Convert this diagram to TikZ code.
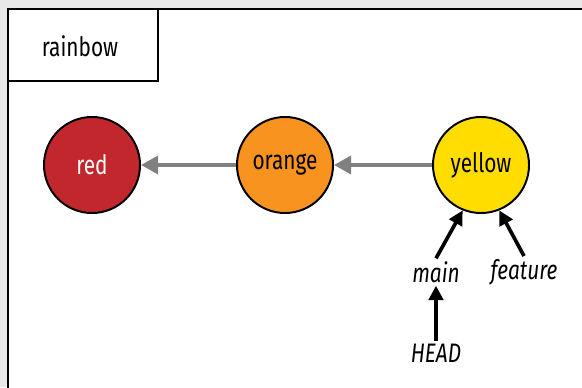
\documentclass[tikz,border=0pt]{standalone}
\usepackage{fontspec}
\setmainfont{Fira Sans}[FakeStretch=0.78]
\definecolor{rbred}{RGB}{193,39,45}
\definecolor{rborange}{RGB}{247,147,30}
\definecolor{rbyellow}{RGB}{255,221,0}
\definecolor{rbgray}{RGB}{128,128,128}
\definecolor{paper}{RGB}{232,232,232}
\usetikzlibrary{arrows.meta}
\tikzset{
  commit/.style={circle, draw=black, line width=1.4pt, minimum size=2.4cm,
              inner sep=0pt, font=\fontsize{19}{22}\selectfont},
  ref/.style={font=\fontsize{19}{22}\selectfont\itshape, inner sep=2pt},
  repo/.style={draw=black, line width=1.8pt, fill=white},
  parent/.style={-{Triangle[length=4.3mm, width=4.5mm]}, rbgray, line width=2.8pt},
  pointer/.style={-{Triangle[length=3.6mm, width=3.6mm]}, line width=2.6pt},
}
\begin{document}
\begin{tikzpicture}[x=0.025cm, y=-0.025cm]
        \useasboundingbox (0,0) rectangle (582,387);
        \begin{scope}
          \clip (0,0) rectangle (582,387);
          \fill[paper] (0,0) rectangle (582,387);
          \draw[repo] (8,9) rectangle (600,400);
          \draw[repo] (8,9) rectangle (158,81);
        \end{scope}
        \node[font=\fontsize{19}{22}\selectfont] (repolbl) at (80,46) {rainbow};
        \node[commit, fill=rbred, text=white] (red) at (92,165) {red};
        \node[commit, fill=rborange] (orange) at (285,165) {orange};
        \node[commit, fill=rbyellow] (yellow) at (481,165) {yellow};
        \node[ref] (main) at (436,272) {main};
        \node[ref] (feature) at (524,272) {feature};
        \node[ref] (head) at (436,353) {HEAD};
        \draw[parent] (orange) -- (red);
        \draw[parent] (yellow) -- (orange);
        \draw[pointer] (main.north) -- (yellow.248);
        \draw[pointer] (feature.north) -- (yellow.292);
        \draw[pointer] (head.north) -- (main.south);
      \end{tikzpicture}
\end{document}
